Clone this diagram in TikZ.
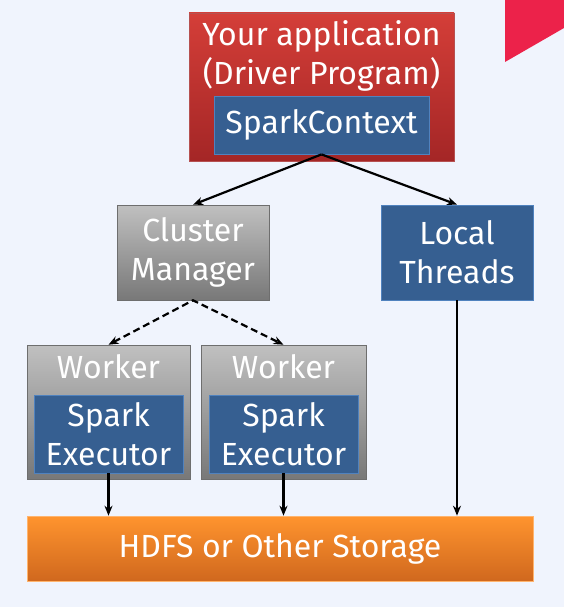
\documentclass[tikz,border=0pt]{standalone}
\usepackage{fontspec}
\setmainfont{Fira Sans}
\usetikzlibrary{arrows.meta,shadows}
\definecolor{bg}{RGB}{240,244,253}
\definecolor{pinkred}{RGB}{236,34,74}
\definecolor{redtop}{RGB}{212,62,56}
\definecolor{redbot}{RGB}{164,38,38}
\definecolor{bluefill}{RGB}{54,95,145}
\definecolor{blueline}{RGB}{80,130,190}
\definecolor{graytop}{RGB}{192,192,192}
\definecolor{graybot}{RGB}{120,120,120}
\definecolor{grayline}{RGB}{110,110,110}
\definecolor{orangetop}{RGB}{255,148,46}
\definecolor{orangebot}{RGB}{208,104,30}
\tikzset{
  boxbase/.style={inner sep=0pt, drop shadow={shadow xshift=1.2pt, shadow yshift=-1.2pt, opacity=0.25}},
  redbox/.style={boxbase, top color=redtop, bottom color=redbot, draw=redbot!80!white, line width=0.6pt},
  graybox/.style={boxbase, top color=graytop, bottom color=graybot, draw=grayline, line width=0.6pt},
  bluebox/.style={inner sep=0pt, fill=bluefill, draw=blueline, line width=0.8pt},
  orangebox/.style={boxbase, top color=orangetop, bottom color=orangebot, draw=orangetop!70!white, line width=0.6pt},
  txt/.style={text=white, font=\fontsize{32}{39}\selectfont, align=center, inner sep=0pt},
  arr/.style={-{Stealth[length=10pt,width=8pt]}, line width=2.2pt, black},
  darr/.style={{Stealth[length=10pt,width=8pt]}-{Stealth[length=10pt,width=8pt]}, line width=2.2pt, black, dash pattern=on 7pt off 4pt}
}
\begin{document}
\begin{tikzpicture}[x=1pt,y=-1pt]
\fill[bg] (0,0) rectangle (564,607);
\useasboundingbox (0,0) rectangle (564,607);
\fill[pinkred] (505,0) -- (564,0) -- (564,28) -- (505,62) -- cycle;

% driver
\node[redbox, minimum width=265pt, minimum height=148pt] (driver) at (321.5,87) {};
\node[txt] (drivertext) at (321.5,56) {Your application\\(Driver Program)};
\node[bluebox, minimum width=215pt, minimum height=58pt] (sc) at (321.5,125) {};
\node[txt] (sctext) at (321.5,125) {SparkContext};

% cluster manager
\node[graybox, minimum width=152pt, minimum height=95pt] (cm) at (193,252.5) {};
\node[txt] (cmtext) at (193,252.5) {Cluster\\Manager};

% local threads
\node[bluebox, minimum width=152pt, minimum height=95pt] (lt) at (457,252.5) {};
\node[txt] (lttext) at (457,252.5) {Local\\Threads};

% workers
\node[graybox, minimum width=163pt, minimum height=134pt] (w1) at (108.5,412) {};
\node[txt] (w1text) at (108.5,367) {Worker};
\node[bluebox, minimum width=149pt, minimum height=78pt] (e1) at (108.5,434) {};
\node[txt] (e1text) at (108.5,434) {Spark\\Executor};

\node[graybox, minimum width=165pt, minimum height=134pt] (w2) at (283.5,412) {};
\node[txt] (w2text) at (283.5,367) {Worker};
\node[bluebox, minimum width=149pt, minimum height=78pt] (e2) at (283.5,434) {};
\node[txt] (e2text) at (283.5,434) {Spark\\Executor};

% storage
\node[orangebox, minimum width=506pt, minimum height=65pt] (hdfs) at (280,548.5) {};
\node[txt] (hdfstext) at (280,548.5) {HDFS or Other Storage};

% connectors
\draw[arr] (sc.south) -- (cm.north);
\draw[arr] (sc.south) -- (lt.north);
\draw[darr] (w1.north) -- (cm.south) -- (w2.north);
\draw[arr] (e1.south) -- (e1.south |- hdfs.north);
\draw[arr] (e2.south) -- (e2.south |- hdfs.north);
\draw[arr] (lt.south) -- (lt.south |- hdfs.north);
\end{tikzpicture}
\end{document}
